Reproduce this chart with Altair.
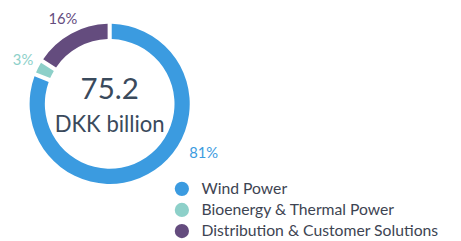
import altair as alt
import pandas as pd

categories = ["Wind Power", "Bioenergy & Thermal Power", "Distribution & Customer Solutions"]
shares = [81, 3, 16]
labels = ["81%", "3%", "16%"]
colors = ["#3b9be0", "#8dd0c9", "#644c7e"]
center_value = "75.2"
center_unit = "DKK billion"

df = pd.DataFrame({"cat": categories, "share": shares, "label": labels, "order": [0, 1, 2]})

FONT = "Lato"
CX, CY = 103.5, 95.5

scale = alt.Scale(domain=categories, range=colors)
color = alt.Color("cat:N", scale=scale, sort=categories,
                  legend=alt.Legend(title=None, orient="none", legendX=169, legendY=174,
                                    symbolType="circle", symbolSize=210, labelFontSize=16,
                                    labelFont=FONT, labelColor="#3d4452", labelOffset=12,
                                    rowPadding=5.5, padding=0, labelLimit=400))

base = alt.Chart(df).encode(
    theta=alt.Theta("share:Q", stack=True),
    order=alt.Order("order:Q"),
    x=alt.value(CX), y=alt.value(CY),
)

arcs = base.mark_arc(innerRadius=66, outerRadius=81.5, padAngle=0.04).encode(color=color)

lbl_others = base.mark_text(radius=99, font=FONT, fontSize=15).encode(
    text="label:N",
    color=alt.Color("cat:N", scale=scale, legend=None),
    opacity=alt.condition(alt.datum.order > 0, alt.value(1), alt.value(0)),
)

lbl_wind = base.mark_text(radius=108, thetaOffset=-0.49, font=FONT, fontSize=15).encode(
    text="label:N",
    color=alt.Color("cat:N", scale=scale, legend=None),
    opacity=alt.condition(alt.datum.order == 0, alt.value(1), alt.value(0)),
)

c1 = alt.Chart(pd.DataFrame({"t": [center_value]})).mark_text(
    font=FONT, fontSize=30, color="#3a4a5c", baseline="middle").encode(
    text="t:N", x=alt.value(CX), y=alt.value(CY - 14))
c2 = alt.Chart(pd.DataFrame({"t": [center_unit]})).mark_text(
    font=FONT, fontSize=22.5, color="#3a4a5c", baseline="middle").encode(
    text="t:N", x=alt.value(CX), y=alt.value(CY + 22))

chart = alt.layer(arcs, lbl_others, lbl_wind, c1, c2).properties(
    width=453, height=233, autosize=alt.AutoSizeParams(type="none"), padding=0
).configure_view(stroke=None)

chart.save("out.html", embed_options={"renderer": "svg", "actions": False})
